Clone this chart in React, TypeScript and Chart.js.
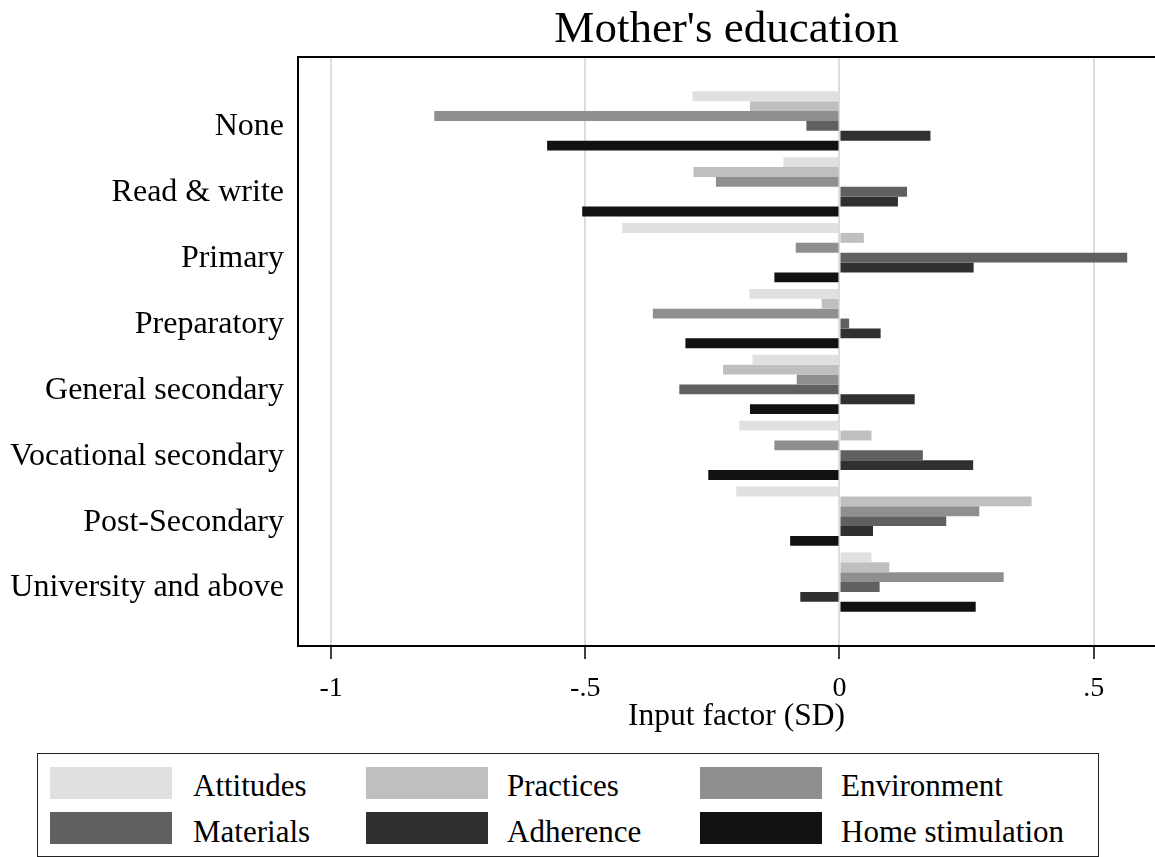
import React, { useEffect, useRef } from 'react';
import { Chart, registerables } from 'chart.js';

Chart.register(...registerables);

// ---------- data ----------
const categories = [
  'None',
  'Read & write',
  'Primary',
  'Preparatory',
  'General secondary',
  'Vocational secondary',
  'Post-Secondary',
  'University and above',
];

const seriesNames = ['Attitudes', 'Practices', 'Environment', 'Materials', 'Adherence', 'Home stimulation'];

const attitudes = [-0.289, -0.11, -0.427, -0.177, -0.171, -0.197, -0.203, 0.063];
const practices = [-0.176, -0.287, 0.048, -0.035, -0.229, 0.063, 0.378, 0.098];
const environment = [-0.797, -0.243, -0.086, -0.367, -0.084, -0.128, 0.275, 0.323];
const materials = [-0.065, 0.133, 0.566, 0.019, -0.315, 0.164, 0.21, 0.079];
const adherence = [0.179, 0.115, 0.264, 0.081, 0.148, 0.263, 0.066, -0.077];
const homeStimulation = [-0.575, -0.506, -0.128, -0.303, -0.176, -0.258, -0.097, 0.268];

const seriesValues = [attitudes, practices, environment, materials, adherence, homeStimulation];
const seriesColors = ['#e0e0e0', '#bfbfbf', '#8f8f8f', '#606060', '#303030', '#111111'];

const xTickValues = [-1, -0.5, 0, 0.5];
const chartTitle = "Mother's education";
const xAxisTitle = 'Input factor (SD)';

// ---------- style ----------
const FONT = '"Liberation Serif", "Times New Roman", Times, serif';

function fmtTick(v: number): string {
  if (v === 0) return '0';
  const s = String(v);
  return s.replace('0.', '.');
}

const legendCols = [
  { sw: 50, tx: 193 },
  { sw: 366, tx: 507 },
  { sw: 700, tx: 841 },
];
const legendRows = [
  { swTop: 767, base: 796 },
  { swTop: 812, base: 842 },
];

export default function App() {
  const ref = useRef<HTMLCanvasElement | null>(null);

  useEffect(() => {
    if (!ref.current) return;
    const framePlugin = {
      id: 'frameTitle',
      afterDraw(chart: any) {
        const { ctx, chartArea } = chart;
        ctx.save();
        ctx.strokeStyle = '#000';
        ctx.lineWidth = 2;
        ctx.beginPath();
        ctx.moveTo(chartArea.left - 1, chartArea.top);
        ctx.lineTo(chartArea.right, chartArea.top);
        ctx.stroke();
        ctx.fillStyle = '#000';
        ctx.font = `45px ${FONT}`;
        ctx.textAlign = 'center';
        ctx.textBaseline = 'alphabetic';
        ctx.fillText(chartTitle, (chartArea.left + 1155) / 2, 42);
        ctx.restore();
      },
    };

    const chart = new Chart(ref.current, {
      type: 'bar',
      data: {
        datasets: seriesNames.map((name, s) => ({
          label: name,
          data: seriesValues[s].map((v, i) => ({ x: v, y: i })),
          backgroundColor: seriesColors[s],
          borderWidth: 0,
          categoryPercentage: 0.9,
          barPercentage: 1,
        })),
      },
      options: {
        indexAxis: 'y',
        responsive: false,
        animation: false,
        devicePixelRatio: 1,
        layout: { padding: { top: 57, left: 0, right: 0, bottom: 0 } },
        plugins: {
          legend: { display: false },
          title: { display: false },
          tooltip: { enabled: false },
        },
        scales: {
          x: {
            type: 'linear',
            position: 'bottom',
            min: -1.065,
            max: 0.66,
            afterBuildTicks: (scale: any) => {
              scale.ticks = xTickValues.map((v) => ({ value: v }));
            },
            afterFit: (scale: any) => {
              scale.height = 104;
            },
            ticks: {
              callback: (v: any) => fmtTick(Number(v)),
              font: { family: FONT, size: 28 },
              color: '#000',
              padding: 13,
              maxRotation: 0,
              autoSkip: false,
            },
            grid: {
              color: '#dcdcdc',
              lineWidth: 2,
              tickColor: '#000',
              tickWidth: 1.5,
              tickLength: 13,
            },
            border: { color: '#000', width: 2 },
            title: {
              display: true,
              text: xAxisTitle,
              font: { family: FONT, size: 31.5 },
              color: '#000',
              padding: { top: 0, bottom: 14 },
            },
          },
          y: {
            type: 'linear',
            min: -0.97,
            max: 7.97,
            reverse: true,
            offset: false,
            afterBuildTicks: (scale: any) => {
              scale.ticks = categories.map((_, i) => ({ value: i }));
            },
            afterFit: (scale: any) => {
              scale.width = 298;
            },
            ticks: {
              callback: (v: any) => ['', categories[Number(v)]],
              font: { family: FONT, size: 32, lineHeight: '12px' },
              color: '#000',
              padding: 6,
              autoSkip: false,
            },
            grid: { display: false, offset: false },
            border: { color: '#000', width: 2 },
          },
        },
      } as any,
      plugins: [framePlugin],
    });
    return () => chart.destroy();
  }, []);

  return (
    <div
      style={{
        position: 'absolute',
        left: 0,
        top: 0,
        width: 1155,
        height: 857,
        overflow: 'hidden',
        background: '#fff',
      }}
    >
      <canvas
        ref={ref}
        width={1175}
        height={750}
        style={{ position: 'absolute', left: 0, top: 0, width: 1175, height: 750 }}
      />
      <div
        style={{
          position: 'absolute',
          left: 37,
          top: 753,
          width: 1062,
          height: 104,
          border: '1.5px solid #222',
          boxSizing: 'border-box',
        }}
      />
      {seriesNames.map((name, s) => {
        const col = legendCols[s % 3];
        const row = legendRows[Math.floor(s / 3)];
        return (
          <React.Fragment key={name}>
            <div
              style={{
                position: 'absolute',
                left: col.sw,
                top: row.swTop,
                width: 122,
                height: 32,
                background: seriesColors[s],
              }}
            />
            <span
              style={{
                position: 'absolute',
                left: col.tx,
                top: row.base - 26.5,
                fontFamily: FONT,
                fontSize: 31,
                lineHeight: '32px',
                whiteSpace: 'nowrap',
                color: '#000',
              }}
            >
              {name}
            </span>
          </React.Fragment>
        );
      })}
    </div>
  );
}
